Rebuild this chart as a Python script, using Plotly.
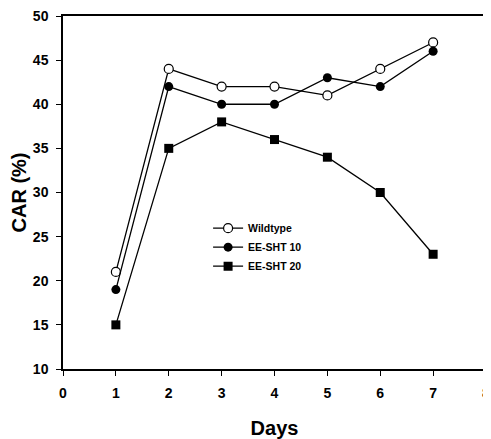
import plotly.graph_objects as go

days = [1, 2, 3, 4, 5, 6, 7]
wildtype = [21, 44, 42, 42, 41, 44, 47]
ee_sht10 = [19, 42, 40, 40, 43, 42, 46]
ee_sht20 = [15, 35, 38, 36, 34, 30, 23]

x_ticks = [0, 1, 2, 3, 4, 5, 6, 7, 8]
y_ticks = [10, 15, 20, 25, 30, 35, 40, 45, 50]

FONT = "Liberation Sans"

fig = go.Figure()
fig.add_trace(go.Scatter(x=days, y=wildtype, name="Wildtype", mode="lines+markers",
                         line=dict(color="black", width=1.3),
                         marker=dict(symbol="circle", size=9, color="white",
                                     line=dict(color="black", width=1.2))))
fig.add_trace(go.Scatter(x=days, y=ee_sht10, name="EE-SHT 10", mode="lines+markers",
                         line=dict(color="black", width=1.3),
                         marker=dict(symbol="circle", size=9, color="black")))
fig.add_trace(go.Scatter(x=days, y=ee_sht20, name="EE-SHT 20", mode="lines+markers",
                         line=dict(color="black", width=1.3),
                         marker=dict(symbol="square", size=9, color="black")))

axis_common = dict(showline=True, linecolor="black", linewidth=1.5, mirror=True,
                   ticks="outside", ticklen=5, tickwidth=1.3, tickcolor="black",
                   showgrid=False, zeroline=False, automargin=False,
                   ticklabeloverflow="allow")

tick_font = dict(family=FONT, size=14, color="black", weight=900)

fig.update_xaxes(range=[0, 8], tickvals=x_ticks,
                 ticktext=[f"<b>{v}</b>" for v in x_ticks],
                 tickfont=tick_font, ticklabelstandoff=5,
                 title=dict(text="Days", font=dict(family=FONT, size=20, color="black", weight="bold"),
                            standoff=21),
                 **axis_common)
fig.update_yaxes(range=[10, 50], tickvals=y_ticks,
                 ticktext=[f"<b>{v}</b>" for v in y_ticks],
                 tickfont=tick_font, ticklabelstandoff=5,
                 title=dict(text="CAR (%)", font=dict(family=FONT, size=20, color="black", weight="bold"),
                            standoff=18),
                 **axis_common)

# the page body keeps an 8px margin, so the figure is sized to the visible area
fig.update_layout(
    width=483, height=431,
    margin=dict(l=55, r=5, t=8, b=70),
    plot_bgcolor="white", paper_bgcolor="white",
    showlegend=True,
    legend=dict(x=0.343, y=0.44, xanchor="left", yanchor="top",
                bgcolor="rgba(0,0,0,0)", borderwidth=0,
                font=dict(family=FONT, size=10.5, color="black", weight="bold"),
                itemwidth=30, tracegroupgap=0),
)

fig.write_html("out.html")
